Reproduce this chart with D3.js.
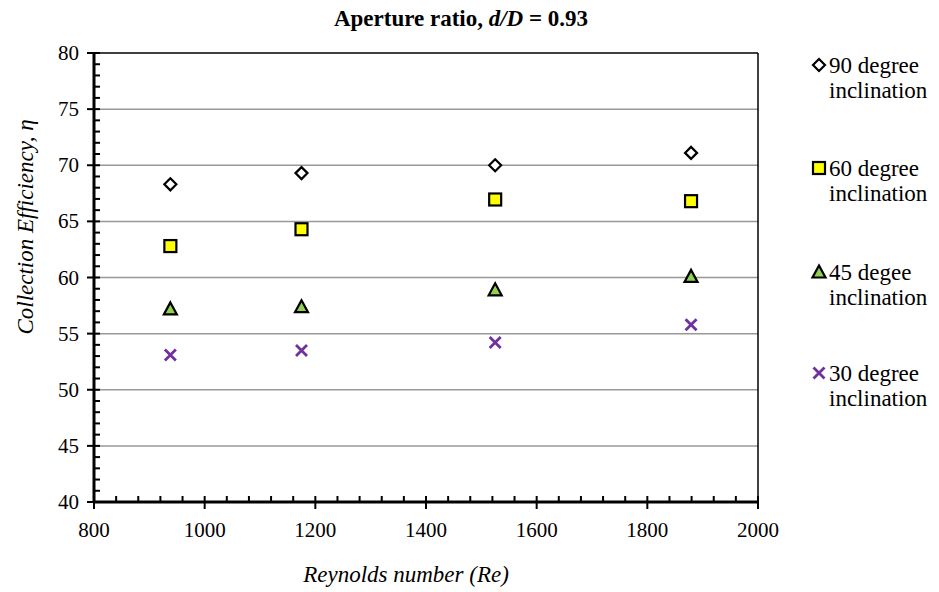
<!DOCTYPE html>
<html lang="en">
<head>
<meta charset="utf-8">
<title>Aperture ratio</title>
<script src="https://cdn.jsdelivr.net/npm/d3@7/dist/d3.min.js"></script>
<style>
  body { margin: 0; background: #fff; }
</style>
</head>
<body>
<script>
// data
var reynolds = [938, 1175, 1525, 1879];
var incl90 = [68.3, 69.3, 70.0, 71.1];
var incl60 = [62.8, 64.3, 66.95, 66.8];
var incl45 = [57.2, 57.4, 58.9, 60.1];
var incl30 = [53.1, 53.5, 54.2, 55.8];
var seriesNames = ["90 degree", "60 degree", "45 degee", "30 degree"];
var xTicks = [800, 1000, 1200, 1400, 1600, 1800, 2000];
var yTicks = [40, 45, 50, 55, 60, 65, 70, 75, 80];

var width = 939, height = 592;
var pLeft = 94, pRight = 758, pTop = 53, pBottom = 502;

var svg = d3.select("body").append("svg").attr("width", width).attr("height", height)
    .attr("font-family", "'Liberation Serif', 'Times New Roman', serif");

var x = d3.scaleLinear().domain([800, 2000]).range([pLeft, pRight]);
var y = d3.scaleLinear().domain([40, 80]).range([pBottom, pTop]);

// gridlines
svg.selectAll("line.grid").data(yTicks.slice(1, -1)).enter().append("line")
    .attr("x1", pLeft).attr("x2", pRight)
    .attr("y1", function (d) { return y(d) }).attr("y2", function (d) { return y(d) })
    .attr("stroke", "#989898").attr("stroke-width", 1.5);

// frame
svg.append("line").attr("x1", pLeft).attr("x2", pRight).attr("y1", pTop).attr("y2", pTop).attr("stroke", "#000").attr("stroke-width", 1.5);
svg.append("line").attr("x1", pRight).attr("x2", pRight).attr("y1", pTop).attr("y2", pBottom + 4).attr("stroke", "#000").attr("stroke-width", 1.5);

// minor ticks (inward)
var yMinor = d3.range(40, 80, 1).filter(function (d) { return d % 5 != 0 });
svg.selectAll("line.ym").data(yMinor).enter().append("line")
    .attr("x1", pLeft).attr("x2", pLeft + 6)
    .attr("y1", function (d) { return y(d) }).attr("y2", function (d) { return y(d) })
    .attr("stroke", "#000").attr("stroke-width", 2);
var xMinor = d3.range(800, 2000, 40).filter(function (d) { return d % 200 != 0 });
svg.selectAll("line.xm").data(xMinor).enter().append("line")
    .attr("x1", function (d) { return x(d) }).attr("x2", function (d) { return x(d) })
    .attr("y1", pBottom).attr("y2", pBottom - 6)
    .attr("stroke", "#000").attr("stroke-width", 2);

// major ticks (cross)
svg.selectAll("line.yM").data(yTicks).enter().append("line")
    .attr("x1", pLeft - 7).attr("x2", pLeft + 6)
    .attr("y1", function (d) { return y(d) }).attr("y2", function (d) { return y(d) })
    .attr("stroke", "#000").attr("stroke-width", 2);
svg.selectAll("line.xM").data(xTicks).enter().append("line")
    .attr("x1", function (d) { return x(d) }).attr("x2", function (d) { return x(d) })
    .attr("y1", pBottom - 6).attr("y2", pBottom + 7)
    .attr("stroke", "#000").attr("stroke-width", 2);

// axis lines
svg.append("line").attr("x1", pLeft).attr("x2", pLeft).attr("y1", pTop).attr("y2", pBottom).attr("stroke", "#000").attr("stroke-width", 3);
svg.append("line").attr("x1", pLeft).attr("x2", pRight).attr("y1", pBottom).attr("y2", pBottom).attr("stroke", "#000").attr("stroke-width", 3);

// tick labels
svg.selectAll("text.yl").data(yTicks).enter().append("text")
    .attr("x", pLeft - 15).attr("y", function (d) { return y(d) + 7 })
    .attr("text-anchor", "end").attr("font-size", "21px").text(function (d) { return d });
svg.selectAll("text.xl").data(xTicks).enter().append("text")
    .attr("x", function (d) { return x(d) }).attr("y", 537)
    .attr("text-anchor", "middle").attr("font-size", "21px").text(function (d) { return d });

// title
var title = svg.append("text").attr("x", 461).attr("y", 26).attr("text-anchor", "middle")
    .attr("font-size", "23px").attr("font-weight", "bold");
title.append("tspan").text("Aperture ratio, ");
title.append("tspan").attr("font-style", "italic").text("d/D");
title.append("tspan").text(" = 0.93");

// axis titles
svg.append("text").attr("x", 406).attr("y", 582).attr("text-anchor", "middle")
    .attr("font-size", "23px").attr("font-style", "italic").text("Reynolds number (Re)");
svg.append("text").attr("transform", "translate(33,227) rotate(-90)")
    .attr("text-anchor", "middle").attr("font-size", "23px").attr("font-style", "italic")
    .text("Collection Efficiency, η");

// markers
function drawMarker(g, kind) {
    if (kind == 0) {
        g.append("path").attr("d", "M0,-6L6,0L0,6L-6,0Z").attr("fill", "#fff").attr("stroke", "#000").attr("stroke-width", 2.2);
    } else if (kind == 1) {
        g.append("rect").attr("x", -6).attr("y", -6).attr("width", 12).attr("height", 12)
            .attr("fill", "#ffff00").attr("stroke", "#000").attr("stroke-width", 2.2);
    } else if (kind == 2) {
        g.append("path").attr("d", "M0,-6.5L6.5,5.5L-6.5,5.5Z").attr("fill", "#92d050").attr("stroke", "#000").attr("stroke-width", 2.2);
    } else {
        g.append("path").attr("d", "M-5.5,-5.5L5.5,5.5M-5.5,5.5L5.5,-5.5").attr("stroke", "#7030a0").attr("stroke-width", 2.8).attr("fill", "none");
    }
}

var allSeries = [incl90, incl60, incl45, incl30];
allSeries.forEach(function (vals, k) {
    svg.selectAll("g.s" + k).data(vals).enter().append("g")
        .attr("transform", function (d, i) { return "translate(" + x(reynolds[i]) + "," + y(d) + ")" })
        .each(function () { drawMarker(d3.select(this), k) });
});

// legend
var legendY = [65, 168, 272, 373];
seriesNames.forEach(function (name, k) {
    var g = svg.append("g").attr("transform", "translate(819," + legendY[k] + ")");
    drawMarker(g, k);
    g.append("text").attr("x", 10).attr("y", 8).attr("font-size", "23px").text(name);
    g.append("text").attr("x", 10).attr("y", 33).attr("font-size", "23px").text("inclination");
});
</script>
</body>
</html>
